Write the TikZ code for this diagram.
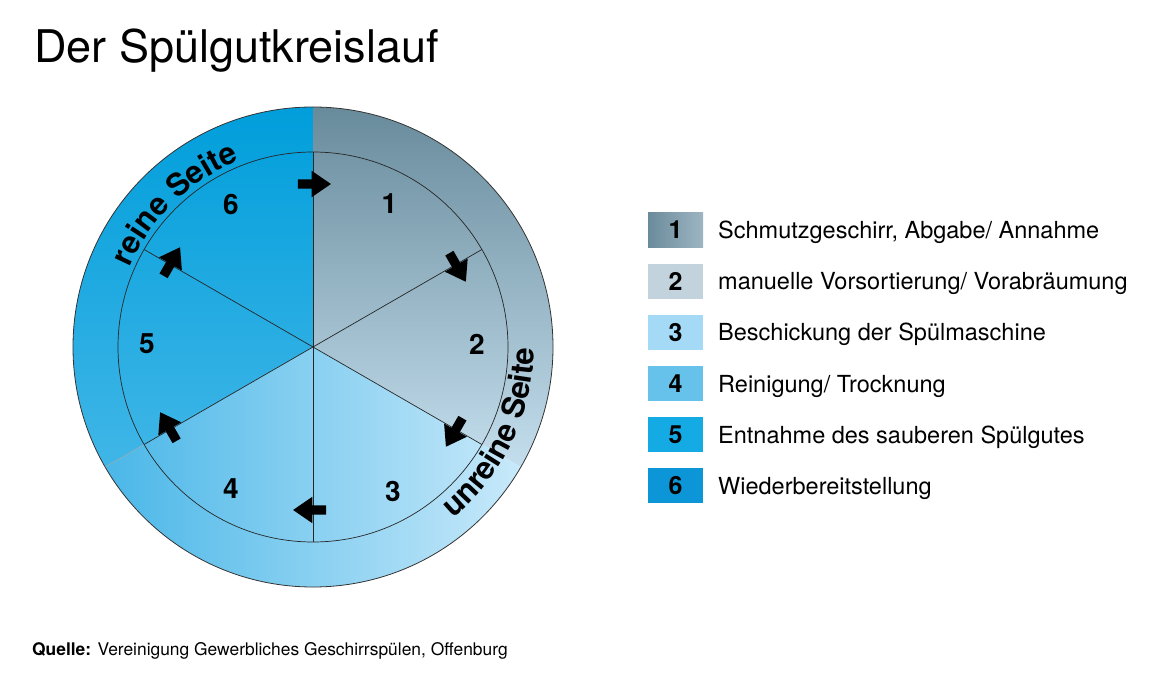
\documentclass[tikz,border=0pt]{standalone}
\usepackage{fontspec}
\setmainfont{TeX Gyre Heros}
\usetikzlibrary{positioning,shapes.arrows,decorations.text}

\definecolor{blautop}{RGB}{0,158,219}
\definecolor{blaubot}{RGB}{64,182,231}
\definecolor{grautop}{RGB}{104,139,156}
\definecolor{graubot}{RGB}{196,222,237}
\definecolor{hellli}{RGB}{74,183,232}
\definecolor{hellre}{RGB}{200,233,250}
\definecolor{farbeeinsl}{RGB}{106,139,155}
\definecolor{farbeeinsr}{RGB}{158,181,195}
\definecolor{farbezwei}{RGB}{194,211,221}
\definecolor{farbedrei}{RGB}{165,218,246}
\definecolor{farbevier}{RGB}{102,194,235}
\definecolor{farbefuenf}{RGB}{20,171,229}
\definecolor{farbesechs}{RGB}{12,150,215}

\begin{document}
\begin{tikzpicture}[x=1pt,y=1pt]
\tikzstyle{legbox} = [rectangle, minimum width=55pt, minimum height=35pt, inner sep=0pt, outer sep=0pt, font=\fontsize{25}{30}\selectfont\bfseries]
\tikzstyle{legtext} = [inner sep=0pt, text height=17pt, text depth=0pt, font=\fontsize{23.5}{28}\selectfont]
\tikzstyle{nummer} = [inner sep=0pt, font=\fontsize{28}{32}\selectfont\bfseries]
\tikzstyle{blockarrow} = [single arrow, fill=black, inner sep=4.5pt, minimum height=33pt, single arrow head extend=8.5pt, single arrow tip angle=69, single arrow head indent=0pt]
\tikzstyle{spoke} = [line width=0.7pt, black!85]

\useasboundingbox (-313,-343) rectangle (857,347);

%segments
\shade[top color=blautop, bottom color=blaubot] (0,0) -- (90:240) arc[start angle=90, end angle=210, radius=240] -- cycle;
\shade[top color=grautop, bottom color=graubot] (0,0) -- (-30:240) arc[start angle=-30, end angle=90, radius=240] -- cycle;
\shade[left color=hellli, right color=hellre] (0,0) -- (210:240) arc[start angle=210, end angle=330, radius=240] -- cycle;

%circles
\draw[line width=0.8pt, black!80] (0,0) circle[radius=240];
\draw[spoke] (0,0) circle[radius=195];
\draw[line width=0.4pt, black!35] (210:195) -- (210:240);

%spokes
\draw[spoke] (0,0) -- (90:195);
\draw[spoke] (0,0) -- (30:195);
\draw[spoke] (0,0) -- (-30:195);
\draw[spoke] (0,0) -- (-90:195);
\draw[spoke] (0,0) -- (210:195);
\draw[spoke] (0,0) -- (150:195);

%numbers
\node (n1) [nummer] at (62:163) {1};
\node (n2) [nummer] at (1:164) {2};
\node (n3) [nummer] at (-61:165) {3};
\node (n4) [nummer] at (-120:164) {4};
\node (n5) [nummer] at (179:166) {5};
\node (n6) [nummer] at (120:164) {6};

%arrows
\node (a61) [blockarrow, rotate=0] at ([xshift=-2pt]90:163) {};
\node (a12) [blockarrow, rotate=-60] at (30:165) {};
\node (a23) [blockarrow, rotate=-120] at (-30:165) {};
\node (a34) [blockarrow, rotate=180] at (-90:163) {};
\node (a45) [blockarrow, rotate=120] at (210:165) {};
\node (a56) [blockarrow, rotate=60] at (150:165) {};

%ring text
\path[decorate, decoration={text along path, text align=center, text={|\fontsize{31}{36}\selectfont\bfseries|reine Seite}}] (170:200) arc[start angle=170, end angle=98, radius=200];
\path[decorate, decoration={text along path, text align=center, text={|\fontsize{31}{36}\selectfont\bfseries|unreine Seite}}] (-73:221) arc[start angle=-73, end angle=22, radius=221];

%legend
\node (b1) [legbox, left color=farbeeinsl, right color=farbeeinsr] at (362.5,117) {1};
\node (b2) [legbox, fill=farbezwei, below=16.2pt of b1] {2};
\node (b3) [legbox, fill=farbedrei, below=16.2pt of b2] {3};
\node (b4) [legbox, fill=farbevier, below=16.2pt of b3] {4};
\node (b5) [legbox, fill=farbefuenf, below=16.2pt of b4] {5};
\node (b6) [legbox, fill=farbesechs, below=16.2pt of b5] {6};

\node (t1) [legtext, right=15pt of b1] {Schmutzgeschirr, Abgabe/ Annahme};
\node (t2) [legtext, right=15pt of b2] {manuelle Vorsortierung/ Vorabräumung};
\node (t3) [legtext, right=15pt of b3] {Beschickung der Spülmaschine};
\node (t4) [legtext, right=15pt of b4] {Reinigung/ Trocknung};
\node (t5) [legtext, right=15pt of b5] {Entnahme des sauberen Spülgutes};
\node (t6) [legtext, right=15pt of b6] {Wiederbereitstellung};

%title and source
\node (titel) [anchor=base west, inner sep=0pt, font=\fontsize{45}{52}\selectfont] at (-279,284) {Der Spülgutkreislauf};
\node (quelle) [anchor=base west, inner sep=0pt, font=\fontsize{17.4}{21}\selectfont] at (-281,-308) {\textbf{Quelle:} Vereinigung Gewerbliches Geschirrspülen, Offenburg};
\end{tikzpicture}
\end{document}
